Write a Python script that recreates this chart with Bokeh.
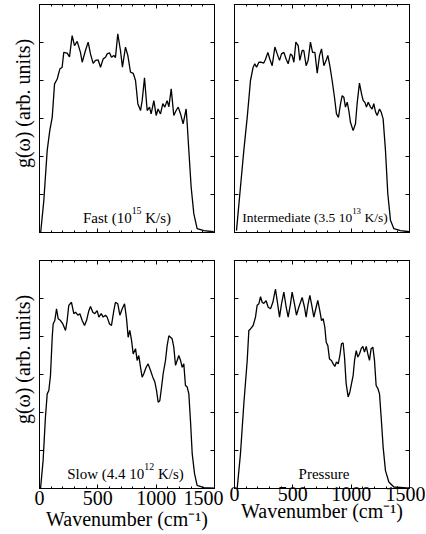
from bokeh.plotting import figure
from bokeh.layouts import gridplot
from bokeh.models import Range1d, LinearAxis, Label, FixedTicker
from bokeh.embed import file_html
from bokeh.resources import INLINE

FONT = "Liberation Serif"

# ---------------- data ----------------
x_major_ticks = [0, 500, 1000, 1500]
x_minor_ticks = list(range(0, 1501, 100))
y_ticks = [0, 1, 2, 3, 4, 5, 6]

fast_x = [10, 37, 66, 88, 109, 129, 152, 174, 194, 208, 237, 257, 280, 300, 323, 351, 366, 394, 417, 437,
          460, 480, 503, 523, 546, 566, 580, 600, 617, 637, 651, 671, 694, 711, 737, 757, 780, 803, 823, 843,
          866, 880, 900, 923, 943, 957, 980, 1000, 1016, 1037, 1057, 1074, 1094, 1109, 1129, 1151, 1171, 1189,
          1209, 1231, 1257, 1266, 1280, 1300, 1323, 1351, 1409, 1494]
fast_y = [0.0, 0.84, 2.16, 2.68, 3.03, 3.91, 4.04, 4.30, 4.35, 4.74, 4.72, 4.62, 5.18, 4.92, 5.03, 4.74, 4.48, 4.79, 5.01, 4.70,
          4.45, 4.53, 4.54, 4.35, 4.57, 4.61, 4.70, 4.73, 4.61, 4.66, 4.60, 5.23, 4.79, 4.35, 4.88, 4.66, 4.22, 4.19, 4.00, 3.39,
          3.21, 3.47, 4.07, 3.21, 3.30, 3.12, 3.47, 3.08, 3.25, 3.12, 3.39, 3.30, 3.47, 3.31, 3.78, 3.08, 3.21, 3.30,
          3.12, 2.86, 3.25, 2.86, 2.16, 1.19, 0.49, 0.10, 0.05, 0.02]

inter_x = [17, 51, 80, 109, 137, 160, 174, 189, 209, 231, 251, 266, 286, 303, 323, 346, 366, 386, 403, 423,
           443, 460, 480, 494, 509, 526, 546, 560, 580, 594, 614, 631, 651, 669, 689, 709, 729, 746, 766, 786,
           800, 817, 837, 857, 874, 891, 909, 923, 937, 951, 966, 980, 994, 1017, 1037, 1051, 1071, 1089, 1103,
           1117, 1131, 1146, 1166, 1180, 1194, 1209, 1223, 1243, 1257, 1274, 1294, 1314, 1337, 1366, 1423, 1500]
inter_y = [0.05, 1.19, 2.16, 3.03, 4.00, 4.35, 4.44, 4.35, 4.48, 4.48, 4.46, 4.56, 4.74, 4.56, 4.39, 4.88, 4.70, 4.53, 4.70, 4.74,
           4.56, 4.44, 4.70, 4.66, 4.48, 5.01, 4.92, 4.53, 4.79, 4.79, 4.39, 4.53, 5.01, 4.74, 4.74, 4.19, 4.66, 4.83, 4.39, 4.53,
           4.66, 4.39, 4.00, 3.56, 3.12, 3.03, 3.39, 3.60, 3.56, 3.30, 3.43, 3.21, 2.90, 2.68, 2.86, 3.39, 3.93, 3.65, 3.47,
           3.43, 3.30, 3.43, 3.30, 3.25, 3.39, 3.17, 3.08, 3.25, 3.17, 2.99, 2.16, 1.02, 0.32, 0.10, 0.05, 0.02]

slow_x = [9, 31, 51, 66, 80, 94, 109, 117, 131, 146, 160, 180, 200, 223, 237, 251, 274, 294, 309, 329,
          346, 366, 386, 403, 423, 437, 457, 474, 494, 509, 529, 546, 566, 580, 600, 617, 637, 651, 671, 689,
          709, 729, 746, 760, 774, 789, 803, 823, 837, 851, 866, 880, 894, 914, 931, 951, 971, 989, 1003, 1017,
          1031, 1046, 1060, 1080, 1094, 1109, 1123, 1137, 1151, 1166, 1180, 1194, 1209, 1223, 1237, 1251, 1266,
          1280, 1294, 1309, 1329, 1351, 1409, 1500]
slow_y = [0.0, 0.74, 1.88, 2.49, 2.58, 2.97, 3.98, 4.33, 4.42, 4.73, 4.47, 4.42, 4.33, 4.16, 4.42, 4.82, 4.90, 4.60, 4.64, 4.56,
          4.60, 4.42, 4.29, 4.42, 4.68, 4.79, 4.64, 4.60, 4.68, 4.51, 4.60, 4.51, 4.56, 4.51, 4.33, 4.29, 4.68, 4.90, 4.86, 4.56,
          4.73, 4.86, 4.47, 3.98, 4.16, 3.90, 3.54, 3.68, 3.37, 3.50, 3.19, 2.93, 3.02, 3.19, 3.28, 3.11, 2.93, 2.80, 2.58, 2.27,
          2.31, 2.66, 3.02, 3.37, 3.76, 4.02, 3.98, 3.94, 3.72, 3.24, 3.37, 3.50, 3.37, 3.19, 3.28, 2.71, 2.67,
          2.49, 1.79, 0.91, 0.39, 0.08, 0.02, 0.01]

press_x = [23, 51, 80, 109, 123, 137, 160, 180, 194, 209, 223, 237, 251, 271, 289, 309, 329, 351, 366, 386,
           403, 423, 443, 460, 480, 494, 514, 531, 551, 566, 580, 600, 614, 631, 646, 660, 680, 700, 714, 731,
           746, 760, 774, 786, 800, 814, 831, 846, 860, 874, 889, 903, 917, 931, 943, 957, 974, 989, 1003, 1017,
           1029, 1043, 1057, 1071, 1086, 1100, 1114, 1129, 1143, 1157, 1171, 1186, 1200, 1214, 1229, 1243, 1257,
           1274, 1294, 1323, 1366, 1500]
press_y = [0.0, 0.91, 2.23, 3.37, 4.16, 4.20, 4.29, 4.51, 4.82, 4.86, 5.05, 4.90, 4.87, 4.94, 4.77, 4.73, 4.90, 5.25, 4.94, 4.51,
           4.86, 5.17, 4.77, 4.51, 4.86, 5.17, 4.86, 4.56, 4.77, 4.90, 5.03, 4.77, 4.51, 4.86, 5.08, 4.86, 4.51, 4.77, 4.95, 4.68,
           4.42, 4.47, 4.25, 3.85, 3.76, 3.41, 3.37, 3.28, 3.21, 3.33, 3.28, 3.50, 3.81, 3.83, 3.46, 2.76, 2.41, 2.54, 2.76, 2.98,
           3.37, 3.63, 3.46, 3.54, 3.68, 3.74, 3.59, 3.74, 3.54, 3.37, 3.68, 3.72, 3.37, 2.71, 2.63, 2.49, 1.88,
           1.09, 0.47, 0.17, 0.04, 0.01]

y_label = "g(\u03c9) (arb. units)"
x_label = "Wavenumber (cm\u207b\u00b9)"

# panel captions: (text, superscript, rest)
fast_caption = ("Fast (10", "15", " K/s)")
inter_caption = ("Intermediate (3.5 10", "13", " K/s)")
slow_caption = ("Slow (4.4 10", "12", " K/s)")
press_caption = ("Pressure", "", "")

# ---------------- helpers ----------------
TW = {'F': .556, 'a': .444, 's': .389, 't': .278, ' ': .25, '(': .333, ')': .333, 'K': .722, '/': .278,
      'S': .556, 'l': .278, 'o': .5, 'w': .722, '.': .25, 'I': .333, 'n': .5, 'e': .444, 'r': .333,
      'm': .778, 'd': .5, 'i': .278, 'P': .556, 'u': .5}
NBSP = "\u00a0"


def tw(s, size):
    return sum(TW.get(c, 0.5) for c in s) * size


def rich(p, parts, cx, base):
    """parts: (text, size_px, raise_px); centred cx px right of frame left,
    baseline `base` px above the frame bottom."""
    total = sum(tw(t, s) for t, s, r in parts)
    x0 = cx - total / 2.0
    for t, s, r in parts:
        if not t:
            continue
        lead = len(t) - len(t.lstrip(" "))
        x0 += tw(" " * lead, s)
        t2 = t.lstrip(" ")
        p.add_layout(Label(x=0, y=0, x_units="data", y_units="data", x_offset=x0, y_offset=base + r,
                           text=t2, text_font=FONT, text_font_size=f"{s}px", text_color="black",
                           text_align="left", text_baseline="alphabetic"))
        x0 += tw(t2, s)


def style_axis(ax, ticker, show_labels):
    ax.ticker = ticker
    ax.major_tick_in = 4
    ax.major_tick_out = 0
    ax.minor_tick_in = 2
    ax.minor_tick_out = 0
    ax.axis_line_color = "black"
    ax.major_tick_line_color = "black"
    ax.minor_tick_line_color = "black"
    if show_labels:
        ax.major_label_text_font = FONT
        ax.major_label_text_font_size = "20px"
        ax.major_label_text_color = "black"
        ax.major_label_standoff = -2
    else:
        ax.major_label_text_font_size = "0px"
        ax.major_label_text_color = None
        ax.major_label_standoff = 0


def panel(xs, ys, caption, cap_size, cap_center, left_col, bottom_row):
    w = 228 if left_col else 197
    h = 293 if bottom_row else 240
    p = figure(width=w, height=h, x_range=Range1d(0, 1500), y_range=Range1d(0, 6),
               output_backend="svg", toolbar_location=None,
               min_border_left=39 if left_col else 6, min_border_right=14 if left_col else 16,
               min_border_top=20 if bottom_row else 4, min_border_bottom=45 if bottom_row else 8)
    p.grid.visible = False
    p.outline_line_color = "black"
    p.outline_line_width = 1
    p.outline_line_alpha = 1
    p.background_fill_color = "white"
    p.border_fill_color = "white"
    p.add_layout(LinearAxis(), "above")
    p.add_layout(LinearAxis(), "right")
    xt = FixedTicker(ticks=x_major_ticks, minor_ticks=x_minor_ticks)
    yt = FixedTicker(ticks=y_ticks, minor_ticks=[])
    style_axis(p.below[0], xt, bottom_row)
    style_axis(p.above[0], xt, False)
    style_axis(p.left[0], yt, False)
    style_axis(p.right[0], yt, False)

    if bottom_row:
        ax = p.below[0]
        ax.axis_label = x_label
        ax.axis_label_text_font = FONT
        ax.axis_label_text_font_size = "20px"
        ax.axis_label_text_font_style = "normal"
        ax.axis_label_text_color = "black"
        ax.axis_label_standoff = -4
        if left_col:
            # keep the last label clear of the neighbouring panel's "0"
            ax.major_label_overrides = {1500: "1500" + NBSP}
    if left_col:
        ax = p.left[0]
        ax.axis_label = NBSP * 6 + y_label
        ax.axis_label_text_font = FONT
        ax.axis_label_text_font_size = "20px"
        ax.axis_label_text_font_style = "normal"
        ax.axis_label_text_color = "black"
        ax.axis_label_standoff = 6

    p.line(xs, ys, line_color="black", line_width=1.3)

    main, sup, rest = caption
    sup_size = round(cap_size * 0.66, 1)
    rich(p, [(main, cap_size, 0), (sup, sup_size, 7), (rest, cap_size, 0)], cap_center, 15)
    return p


tl = panel(fast_x, fast_y, fast_caption, 15, 87.5, True, False)
tr = panel(inter_x, inter_y, inter_caption, 13.5, 80.5, False, False)
bl = panel(slow_x, slow_y, slow_caption, 15, 86, True, True)
br = panel(press_x, press_y, press_caption, 15, 89.5, False, True)

grid = gridplot([[tl, tr], [bl, br]], toolbar_location=None)

open("out.html", "w").write(file_html(grid, INLINE))
